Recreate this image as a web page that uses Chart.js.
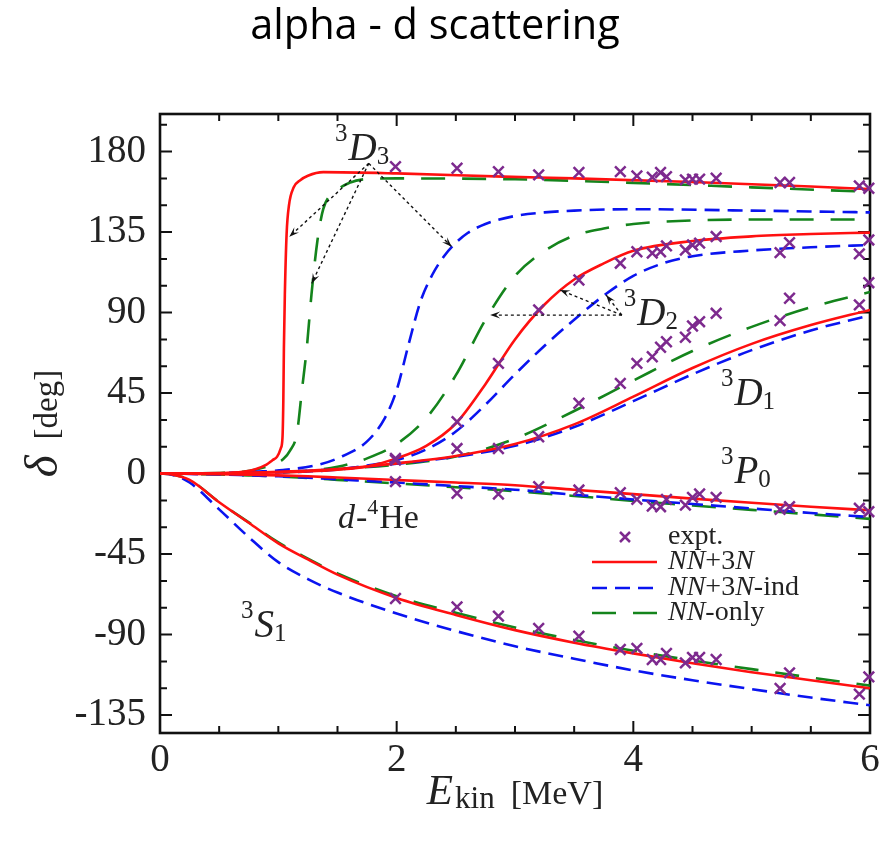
<!DOCTYPE html>
<html>
<head>
<meta charset="utf-8">
<script src="https://cdn.jsdelivr.net/npm/chart.js@4.4.1/dist/chart.umd.min.js"></script>
<style>
  html, body { margin: 0; padding: 0; background: #fff; }
</style>
</head>
<body>
<canvas id="phaseChart" width="895" height="842"></canvas>
<script>
 "use strict";

/*----------------------------------------*/
/*  data: phase shifts [deg] vs E_kin [MeV]
/*----------------------------------------*/
var xTicks = [0, 2, 4, 6];
var yTicks = [-135, -90, -45, 0, 45, 90, 135, 180];

// shared energy grid for the smooth waves
var eGrid = [0, 0.1, 0.25, 0.5, 0.75, 1, 1.25, 1.5, 2, 2.5, 3, 3.5, 4, 4.5, 5, 5.5, 6];

var s1Red   = [0, -0.5, -3.5, -16, -27.5, -39, -48, -56.5, -69.5, -79, -87.5, -94.5, -100.5, -106, -111, -115.5, -120];
var s1Green = [0, -0.5, -3.5, -16, -27.3, -38.5, -47.5, -55.8, -68.5, -77.8, -86, -93, -99, -104.5, -109.3, -114, -118.5];
var s1Blue  = [0, -0.6, -5, -20, -35.5, -49.5, -59, -66.5, -78.2, -88, -96.5, -103.5, -110, -115.5, -120.5, -125.2, -129.5];

var p0Red   = [0, 0, -0.1, -0.3, -0.6, -1, -1.5, -2.2, -3.6, -5, -6.5, -9, -11.5, -14, -16.3, -18.5, -20.5];
var p0Blue  = [0, 0, -0.2, -0.5, -1, -1.5, -2.3, -3.2, -5, -7, -9, -11.8, -14.5, -17, -19.5, -22, -24.3];
var p0Green = [0, 0, -0.2, -0.5, -1, -1.6, -2.5, -3.5, -5.5, -7.6, -9.8, -12.5, -15.3, -17.8, -20.3, -22.8, -25.3];

var d1Red   = [0, 0, 0, 0.2, 0.5, 1, 1.6, 2.5, 5.7, 9.8, 16.5, 27.5, 43, 59, 72.5, 83, 91.5];
var d1Blue  = [0, 0, 0, 0.2, 0.5, 1, 1.6, 2.5, 5.5, 9.4, 15.5, 26, 40.5, 55.5, 69, 80, 88.5];
var d1Green = [0, 0, 0, 0.2, 0.5, 0.8, 1.5, 2.5, 5, 9.5, 19.5, 35, 52, 68.5, 82, 93, 101.5];

// resonant waves have their own energy samples
var d2RedE   = [0, 0.5, 1, 1.25, 1.5, 1.75, 2, 2.25, 2.5, 2.75, 3, 3.25, 3.5, 3.75, 4, 4.5, 5, 5.5, 6];
var d2Red    = [0, 0.2, 0.7, 1.2, 2.2, 4, 8.5, 15.5, 28, 50, 75, 94.5, 108.5, 117.5, 124.5, 130, 132.6, 133.9, 134.7];
var d2BlueE  = [0, 0.5, 1, 1.25, 1.5, 1.75, 2, 2.25, 2.5, 2.75, 3, 3.25, 3.5, 3.75, 4, 4.25, 4.5, 5, 5.5, 6];
var d2Blue   = [0, 0.2, 0.7, 1.2, 2.2, 4.5, 7.5, 13.5, 23.5, 38.5, 55.5, 71.5, 86, 99.5, 110.5, 117.5, 121.5, 124.7, 126.5, 127.8];
var d2GreenE = [0, 0.5, 1, 1.25, 1.5, 1.75, 2, 2.25, 2.5, 2.75, 3, 3.25, 3.5, 3.75, 4, 4.5, 5, 6];
var d2Green  = [0, 0.2, 0.6, 1.5, 3.8, 8.5, 16.5, 31, 55, 86, 110.5, 124.5, 133, 137, 139.5, 141.5, 142, 142];

var d3RedE   = [0, 0.5, 0.6, 0.7, 0.8, 0.9, 0.95, 0.99, 1.02, 1.035, 1.042, 1.047, 1.055, 1.07, 1.09, 1.13, 1.185, 1.25, 1.38, 2, 2.9, 3.5, 4.5, 5.5, 6];
var d3Red    = [0, 0.3, 0.5, 1, 2.3, 5, 7.5, 9.5, 14, 20, 40, 70, 100, 134, 150, 160, 164, 166.5, 168.5, 167.8, 166, 165, 163, 160.5, 159];
var d3GreenE = [0, 0.5, 0.7, 0.82, 0.95, 1.04, 1.1, 1.157, 1.2, 1.24, 1.28, 1.33, 1.38, 1.49, 1.6, 1.72, 2, 3, 4, 5, 6];
var d3Green  = [0, 0.3, 1, 2.4, 5, 8, 13, 22.5, 47, 70, 100, 130, 148, 158, 162.5, 164.5, 165, 164.5, 162.5, 160, 157.5];
var d3BlueE  = [0, 0.6, 0.8, 1.04, 1.33, 1.5, 1.75, 1.9, 2.0, 2.1, 2.2, 2.3, 2.4, 2.5, 2.6, 2.75, 3, 3.25, 3.5, 4, 5, 6];
var d3Blue   = [0, 0.3, 1, 2, 4.8, 8.5, 18, 31, 46.7, 72, 96, 111, 121.5, 129, 134.5, 139.5, 144, 146, 147, 147.8, 147, 146];

// experiment
var exptE  = [1.99, 2.51, 2.86, 3.2, 3.54, 3.89, 4.03, 4.16, 4.23, 4.28, 4.44, 4.5, 4.56, 4.7, 5.24, 5.32, 5.91, 5.99];
var exptD3 = [171.6, 170.7, 168.8, 167, 168.3, 168.8, 166.4, 165.7, 168.3, 166, 164.2, 164.6, 164.6, 165.1, 162.7, 162.7, 160.8, 159.5];
var exptD2 = [8.5, 29, 61.6, 91.5, 108.2, 117.6, 124, 123.2, 124, 127.3, 125, 127.8, 128.8, 132.5, 123.5, 129.1, 122.8, 130.6];
var exptD1 = [7.6, 14, 14, 20.6, 39.3, 50.4, 61.6, 65.3, 70.6, 73.7, 76.2, 82.5, 84.9, 89.6, 85.5, 98, 94.3, 106.7];
var exptP0 = [-4.5, -11, -11.4, -7.3, -9.2, -10.7, -14.4, -18.2, -18.5, -14.4, -17.6, -13.3, -11.4, -13.3, -20, -18.5, -19.4, -21.3];
var exptS1 = [-69.8, -74.5, -79.7, -86.6, -90.9, -98.3, -97.7, -103.9, -103.9, -100.5, -105.8, -102.8, -102.8, -103.9, -120.1, -111.4, -123.3, -113.6];

/*----------------------------------------*/
/*  helpers
/*----------------------------------------*/
var RED = '#ff1010', BLUE = '#0a14f0', GREEN = '#14841c', PURPLE = '#7d2a8e';
var SERIF = '"Liberation Serif", "Times New Roman", serif';

function pts(xs, ys) {
	return xs.map(function (x, i) { return { x: x, y: ys[i] }; });
}
function curve(xs, ys, color, dash) {
	return {
		data: pts(xs, ys),
		showLine: true,
		borderColor: color,
		borderWidth: 2.6,
		borderDash: dash || [],
		pointRadius: 0,
		cubicInterpolationMode: 'monotone',
		fill: false
	};
}
var exptPts = [];
[exptD3, exptD2, exptD1, exptP0, exptS1].forEach(function (wave) {
	exptPts = exptPts.concat(pts(exptE, wave));
});

function drawPieces(ctx, x, y, pieces) {
	var cx = x;
	pieces.forEach(function (p) {
		ctx.font = (p.st || '') + ' ' + p.sz + 'px ' + SERIF;
		ctx.fillText(p.t, cx, y + (p.dy || 0));
		cx += ctx.measureText(p.t).width + (p.gap || 0);
	});
	return cx - x;
}
function piecesWidth(ctx, pieces) {
	var w = 0;
	pieces.forEach(function (p) {
		ctx.font = (p.st || '') + ' ' + p.sz + 'px ' + SERIF;
		w += ctx.measureText(p.t).width + (p.gap || 0);
	});
	return w;
}
function arrow(ctx, x1, y1, x2, y2) {
	ctx.setLineDash([3, 3]);
	ctx.beginPath(); ctx.moveTo(x1, y1); ctx.lineTo(x2, y2); ctx.stroke();
	ctx.setLineDash([]);
	var a = Math.atan2(y2 - y1, x2 - x1), L = 10, W = 3.5;
	ctx.beginPath();
	ctx.moveTo(x2, y2);
	ctx.lineTo(x2 - L * Math.cos(a) + W * Math.sin(a), y2 - L * Math.sin(a) - W * Math.cos(a));
	ctx.lineTo(x2 - 0.6 * L * Math.cos(a), y2 - 0.6 * L * Math.sin(a));
	ctx.lineTo(x2 - L * Math.cos(a) - W * Math.sin(a), y2 - L * Math.sin(a) + W * Math.cos(a));
	ctx.closePath(); ctx.fill();
}
function waveLabel(n, letter, sub) {
	return [
		{ t: n, sz: 25, dy: -19, gap: 1 },
		{ t: letter, sz: 39, st: 'italic' },
		{ t: sub, sz: 25, dy: 4 }
	];
}

/*----------------------------------------*/
/*  frame, ticks, labels, legend
/*----------------------------------------*/
var framePlugin = {
	id: 'framePlugin',
	beforeDatasetsDraw: function (chart) {
		var ctx = chart.ctx, a = chart.chartArea, x = chart.scales.x, y = chart.scales.y;
		ctx.save();
		ctx.strokeStyle = '#111';
		ctx.lineWidth = 2;
		var v, px, len;
		for (v = 0; v <= 6.001; v += 0.5) {
			px = x.getPixelForValue(v);
			len = (v % 2 === 0) ? 12 : 7;
			ctx.beginPath();
			ctx.moveTo(px, a.bottom); ctx.lineTo(px, a.bottom - len);
			ctx.moveTo(px, a.top); ctx.lineTo(px, a.top + len);
			ctx.stroke();
		}
		for (v = -135; v <= 195; v += 15) {
			px = y.getPixelForValue(v);
			len = (v % 45 === 0) ? 12 : 7;
			ctx.beginPath();
			ctx.moveTo(a.left, px); ctx.lineTo(a.left + len, px);
			ctx.moveTo(a.right, px); ctx.lineTo(a.right - len, px);
			ctx.stroke();
		}
		ctx.lineWidth = 2.6;
		ctx.strokeRect(a.left, a.top, a.right - a.left, a.bottom - a.top);
		ctx.restore();
	},
	afterDatasetsDraw: function (chart) {
		var ctx = chart.ctx, a = chart.chartArea, x = chart.scales.x, y = chart.scales.y;
		function X(v) { return x.getPixelForValue(v); }
		function Y(v) { return y.getPixelForValue(v); }
		ctx.save();
		ctx.fillStyle = '#222';
		ctx.strokeStyle = '#111';
		ctx.lineWidth = 1.4;
		ctx.textBaseline = 'alphabetic';
		ctx.textAlign = 'left';

		// wave labels
		drawPieces(ctx, X(1.479), Y(175.3), waveLabel('3', 'D', '3'));
		drawPieces(ctx, X(3.92), Y(83.0), waveLabel('3', 'D', '2'));
		drawPieces(ctx, X(4.74), Y(38.3), waveLabel('3', 'D', '1'));
		drawPieces(ctx, X(4.74), Y(-5.3), waveLabel('3', 'P', '0'));
		drawPieces(ctx, X(0.685), Y(-91.4), waveLabel('3', 'S', '1'));
		drawPieces(ctx, X(1.504), Y(-30.4), [
			{ t: 'd', sz: 34, st: 'italic', gap: 1 },
			{ t: '-', sz: 34 },
			{ t: '4', sz: 22, dy: -14, gap: 1 },
			{ t: 'He', sz: 34 }
		]);

		// arrows
		ctx.fillStyle = '#111';
		arrow(ctx, X(1.764), Y(173.4), X(1.093), Y(132.4));
		arrow(ctx, X(1.764), Y(173.4), X(1.282), Y(106.3));
		arrow(ctx, X(1.764), Y(173.4), X(2.465), Y(126.8));
		arrow(ctx, X(3.903), Y(88.6), X(3.38), Y(102.6));
		arrow(ctx, X(3.903), Y(88.6), X(3.77), Y(99.8));
		arrow(ctx, X(3.903), Y(88.6), X(2.79), Y(88.6));

		// legend
		var lx0 = a.right - 278, lx1 = a.right - 213, tx = a.right - 202;
		var rows = [a.bottom - 196, a.bottom - 171, a.bottom - 145, a.bottom - 120];
		ctx.strokeStyle = PURPLE; ctx.lineWidth = 2.5;
		var mx = a.right - 245, my = rows[0], r = 5;
		ctx.beginPath();
		ctx.moveTo(mx - r, my - r); ctx.lineTo(mx + r, my + r);
		ctx.moveTo(mx - r, my + r); ctx.lineTo(mx + r, my - r);
		ctx.stroke();
		var styles = [[RED, []], [BLUE, [15, 8]], [GREEN, [24, 17]]];
		styles.forEach(function (s, i) {
			ctx.strokeStyle = s[0]; ctx.lineWidth = 2.6; ctx.setLineDash(s[1]);
			ctx.beginPath(); ctx.moveTo(lx0, rows[i + 1]); ctx.lineTo(lx1, rows[i + 1]); ctx.stroke();
		});
		ctx.setLineDash([]);
		ctx.fillStyle = '#222';
		ctx.textBaseline = 'middle';
		drawPieces(ctx, tx, rows[0], [{ t: 'expt.', sz: 28 }]);
		drawPieces(ctx, tx, rows[1], [{ t: 'NN', sz: 28, st: 'italic' }, { t: '+3', sz: 28 }, { t: 'N', sz: 28, st: 'italic' }]);
		drawPieces(ctx, tx, rows[2], [{ t: 'NN', sz: 28, st: 'italic' }, { t: '+3', sz: 28 }, { t: 'N', sz: 28, st: 'italic' }, { t: '-ind', sz: 28 }]);
		drawPieces(ctx, tx, rows[3], [{ t: 'NN', sz: 28, st: 'italic' }, { t: '-only', sz: 28 }]);
		ctx.restore();
	},
	afterDraw: function (chart) {
		var ctx = chart.ctx, a = chart.chartArea;
		ctx.save();
		ctx.fillStyle = '#222';
		ctx.textBaseline = 'alphabetic';
		ctx.textAlign = 'left';
		// x axis title
		var xt = [
			{ t: 'E', sz: 43, st: 'italic', gap: 2 },
			{ t: 'kin', sz: 31, dy: 4, gap: 16 },
			{ t: '[MeV]', sz: 34 }
		];
		var cxm = (a.left + a.right) / 2;
		drawPieces(ctx, cxm - piecesWidth(ctx, xt) / 2, 804, xt);
		// y axis title (rotated)
		var yt = [
			{ t: '\u03b4', sz: 47, st: 'italic', gap: 16 },
			{ t: '[deg]', sz: 33 }
		];
		ctx.translate(57, (a.top + a.bottom) / 2);
		ctx.rotate(-Math.PI / 2);
		drawPieces(ctx, -piecesWidth(ctx, yt) / 2, 0, yt);
		ctx.restore();
	}
};

/*----------------------------------------*/
/*  chart
/*----------------------------------------*/
var ctx = document.getElementById("phaseChart");
var phaseChart = new Chart(ctx, {
	type: 'scatter',
	data: {
		datasets: [
			{
				label: 'expt.',
				data: exptPts,
				pointStyle: 'crossRot',
				pointRadius: 7.5,
				pointBorderWidth: 2.5,
				borderColor: PURPLE,
				backgroundColor: PURPLE,
				showLine: false,
				clip: false
			},
			curve(d3RedE, d3Red, RED),
			curve(d2RedE, d2Red, RED),
			curve(eGrid, d1Red, RED),
			curve(eGrid, p0Red, RED),
			curve(eGrid, s1Red, RED),
			curve(d3BlueE, d3Blue, BLUE, [15, 8]),
			curve(d2BlueE, d2Blue, BLUE, [15, 8]),
			curve(eGrid, d1Blue, BLUE, [15, 8]),
			curve(eGrid, p0Blue, BLUE, [15, 8]),
			curve(eGrid, s1Blue, BLUE, [15, 8]),
			curve(d3GreenE, d3Green, GREEN, [24, 17]),
			curve(d2GreenE, d2Green, GREEN, [24, 17]),
			curve(eGrid, d1Green, GREEN, [24, 17]),
			curve(eGrid, p0Green, GREEN, [24, 17]),
			curve(eGrid, s1Green, GREEN, [24, 17])
		]
	},
	options: {
		responsive: false,
		animation: false,
		layout: { padding: { left: 0, right: 25, top: 0, bottom: 0 } },
		plugins: {
			legend: { display: false },
			tooltip: { enabled: false },
			title: {
				display: true,
				text: 'alpha - d scattering',
				color: '#000',
				font: { family: '"Open Sans", sans-serif', size: 41.5, weight: 'normal', lineHeight: 1.2 },
				padding: { top: 2, bottom: 62.2 }
			}
		},
		scales: {
			x: {
				type: 'linear',
				min: 0, max: 6,
				grid: { display: false, drawTicks: false },
				border: { display: false },
				afterBuildTicks: function (axis) { axis.ticks = xTicks.map(function (v) { return { value: v }; }); },
				afterFit: function (axis) { axis.height = 109; },
				ticks: {
					padding: 4,
					color: '#222',
					font: { family: SERIF, size: 39 },
					maxRotation: 0,
					callback: function (v) { return String(v); }
				}
			},
			y: {
				type: 'linear',
				min: -145, max: 201,
				grid: { display: false, drawTicks: false },
				border: { display: false },
				afterBuildTicks: function (axis) { axis.ticks = yTicks.map(function (v) { return { value: v }; }); },
				afterFit: function (axis) { axis.width = 160; },
				ticks: {
					padding: 14,
					color: '#222',
					font: { family: SERIF, size: 39 },
					callback: function (v) { return String(v); }
				}
			}
		}
	},
	plugins: [framePlugin]
});
</script>
</body>
</html>
